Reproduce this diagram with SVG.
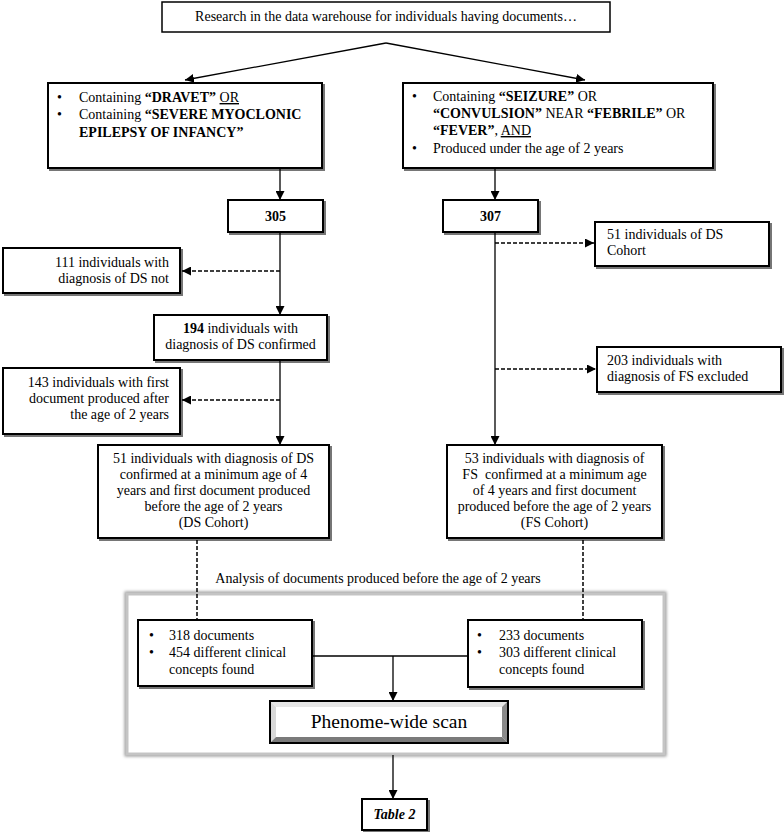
<svg xmlns="http://www.w3.org/2000/svg" width="784" height="832" viewBox="0 0 784 832">
<defs>
<marker id="ah" viewBox="0 0 10 10" refX="10" refY="5" markerWidth="9" markerHeight="9" markerUnits="userSpaceOnUse" orient="auto">
<path d="M0,0 L10,5 L0,10 z" fill="#000"/>
</marker>
<filter id="sh" x="-5%" y="-5%" width="115%" height="125%">
<feDropShadow dx="2" dy="2" stdDeviation="0.6" flood-color="#666" flood-opacity="0.9"/>
</filter>
<filter id="psh" x="-5%" y="-5%" width="112%" height="115%">
<feGaussianBlur stdDeviation="1.5"/>
</filter>
</defs>
<style>
text{font-family:"Liberation Serif","Times New Roman",serif;font-size:14px;fill:#000}
.box{fill:#fff;stroke:#000;stroke-width:2;filter:url(#sh)}
.b{font-weight:bold}
.u{text-decoration:underline}
.c{text-anchor:middle}
.e{text-anchor:end}
.ln{fill:none;stroke:#000;stroke-width:1.3}
.dl{fill:none;stroke:#000;stroke-width:1.5;stroke-dasharray:4 2}
</style>

<g id="panel">
<rect x="127" y="594" width="537" height="160" fill="none" stroke="#999" stroke-width="5" filter="url(#psh)"/>
<rect x="127" y="594" width="537" height="160" fill="#fff" stroke="#c4c4c4" stroke-width="3"/>
</g>

<g id="n-top">
<rect x="162" y="2" width="448" height="30" fill="#fff" stroke="#000" stroke-width="1.5"/>
<text x="386" y="21" class="c">Research in the data warehouse for individuals having documents…</text>
</g>

<g id="n-dravet">
<rect class="box" x="48" y="83" width="274" height="85"/>
<text x="57" y="102">•</text>
<text x="79" y="102">Containing <tspan class="b">“DRAVET”</tspan> <tspan class="u">OR</tspan></text>
<text x="57" y="119">•</text>
<text x="79" y="119">Containing <tspan class="b">“SEVERE MYOCLONIC</tspan></text>
<text x="79" y="137" class="b">EPILEPSY OF INFANCY”</text>
</g>

<g id="n-seizure">
<rect class="box" x="403" y="83" width="310" height="85"/>
<text x="412" y="101">•</text>
<text x="433" y="101">Containing <tspan class="b">“SEIZURE”</tspan> OR</text>
<text x="433" y="118"><tspan class="b">“CONVULSION”</tspan> NEAR <tspan class="b">“FEBRILE”</tspan> OR</text>
<text x="433" y="135"><tspan class="b">“FEVER”</tspan>, <tspan class="u">AND</tspan></text>
<text x="412" y="153">•</text>
<text x="433" y="153">Produced under the age of 2 years</text>
</g>

<g id="n-305">
<rect class="box" x="228" y="200" width="95" height="32"/>
<text x="275.5" y="221" class="c b">305</text>
</g>

<g id="n-307">
<rect class="box" x="443" y="200" width="95" height="32"/>
<text x="490.5" y="221" class="c b">307</text>
</g>

<g id="n-111">
<rect class="box" x="3" y="248" width="177" height="45"/>
<text x="169" y="267" class="e">111 individuals with</text>
<text x="169" y="283" class="e">diagnosis of DS not</text>
</g>

<g id="n-51ds">
<rect class="box" x="595" y="222" width="174" height="44"/>
<text x="607" y="239">51 individuals of DS</text>
<text x="607" y="255">Cohort</text>
</g>

<g id="n-194">
<rect class="box" x="154" y="315" width="173" height="45"/>
<text x="240.5" y="333" class="c"><tspan class="b">194</tspan> individuals with</text>
<text x="240.5" y="349" class="c">diagnosis of DS confirmed</text>
</g>

<g id="n-203">
<rect class="box" x="597" y="347" width="184" height="45"/>
<text x="607" y="365">203 individuals with</text>
<text x="607" y="381">diagnosis of FS excluded</text>
</g>

<g id="n-143">
<rect class="box" x="3" y="368" width="177" height="66"/>
<text x="169" y="387" class="e">143 individuals with first</text>
<text x="169" y="403" class="e">document produced after</text>
<text x="169" y="419" class="e">the age of 2 years</text>
</g>

<g id="n-dscohort">
<rect class="box" x="98" y="445" width="231" height="93"/>
<text x="213.5" y="463" class="c">51 individuals with diagnosis of DS</text>
<text x="213.5" y="479" class="c">confirmed at a minimum age of 4</text>
<text x="213.5" y="495" class="c">years and first document produced</text>
<text x="213.5" y="511" class="c">before the age of 2 years</text>
<text x="213.5" y="527" class="c">(DS Cohort)</text>
</g>

<g id="n-fscohort">
<rect class="box" x="447" y="445" width="215" height="93"/>
<text x="554.5" y="463" class="c">53 individuals with diagnosis of</text>
<text x="554.5" y="479" class="c" xml:space="preserve">FS  confirmed at a minimum age</text>
<text x="554.5" y="495" class="c">of 4 years and first document</text>
<text x="554.5" y="511" class="c">produced before the age of 2 years</text>
<text x="554.5" y="527" class="c">(FS Cohort)</text>
</g>

<g id="n-analysis">
<text x="378" y="583" class="c">Analysis of documents produced before the age of 2 years</text>
</g>

<g id="n-318">
<rect class="box" x="138" y="620" width="174" height="66"/>
<text x="149" y="640">•</text>
<text x="169" y="640">318 documents</text>
<text x="149" y="657">•</text>
<text x="169" y="657">454 different clinical</text>
<text x="169" y="674">concepts found</text>
</g>

<g id="n-233">
<rect class="box" x="468" y="620" width="174" height="67"/>
<text x="477" y="640">•</text>
<text x="499" y="640">233 documents</text>
<text x="477" y="657">•</text>
<text x="499" y="657">303 different clinical</text>
<text x="499" y="674">concepts found</text>
</g>

<g id="n-phenome">
<rect x="270" y="701" width="238" height="42" fill="#fff" stroke="#000" stroke-width="2"/>
<polygon points="271,702 507,702 502,707 276,707" fill="#e6e6e6"/>
<polygon points="271,702 276,707 276,737 271,742" fill="#d8d8d8"/>
<polygon points="507,702 507,742 502,737 502,707" fill="#8a8a8a"/>
<polygon points="271,742 507,742 502,737 276,737" fill="#7a7a7a"/>
<text x="389" y="728" class="c" style="font-size:19.5px">Phenome-wide scan</text>
</g>

<g id="n-table2">
<rect class="box" x="362" y="799" width="65" height="31"/>
<text x="394.5" y="819" class="c b" style="font-style:italic">Table 2</text>
</g>

<g id="connectors">
<path class="ln" d="M386,43 L185,80" marker-end="url(#ah)"/>
<path class="ln" d="M386,43 L585,80" marker-end="url(#ah)"/>
<path class="ln" d="M280,168 L280,200" marker-end="url(#ah)"/>
<path class="ln" d="M495,168 L495,200" marker-end="url(#ah)"/>
<path class="ln" d="M280,232 L280,315" marker-end="url(#ah)"/>
<path class="dl" d="M280,271 L182,271" marker-end="url(#ah)"/>
<path class="ln" d="M280,360 L280,445" marker-end="url(#ah)"/>
<path class="dl" d="M280,400 L182,400" marker-end="url(#ah)"/>
<path class="ln" d="M495,232 L495,445" marker-end="url(#ah)"/>
<path class="dl" d="M495,243 L594,243" marker-end="url(#ah)"/>
<path class="dl" d="M495,369 L596,369" marker-end="url(#ah)"/>
<path class="dl" d="M197,540 L197,620"/>
<path class="dl" d="M583,540 L583,620"/>
<path class="ln" d="M312,656 L468,656"/>
<path class="ln" d="M393,656 L393,701" marker-end="url(#ah)"/>
<path class="ln" d="M393,755 L393,799" marker-end="url(#ah)"/>
</g>
</svg>
